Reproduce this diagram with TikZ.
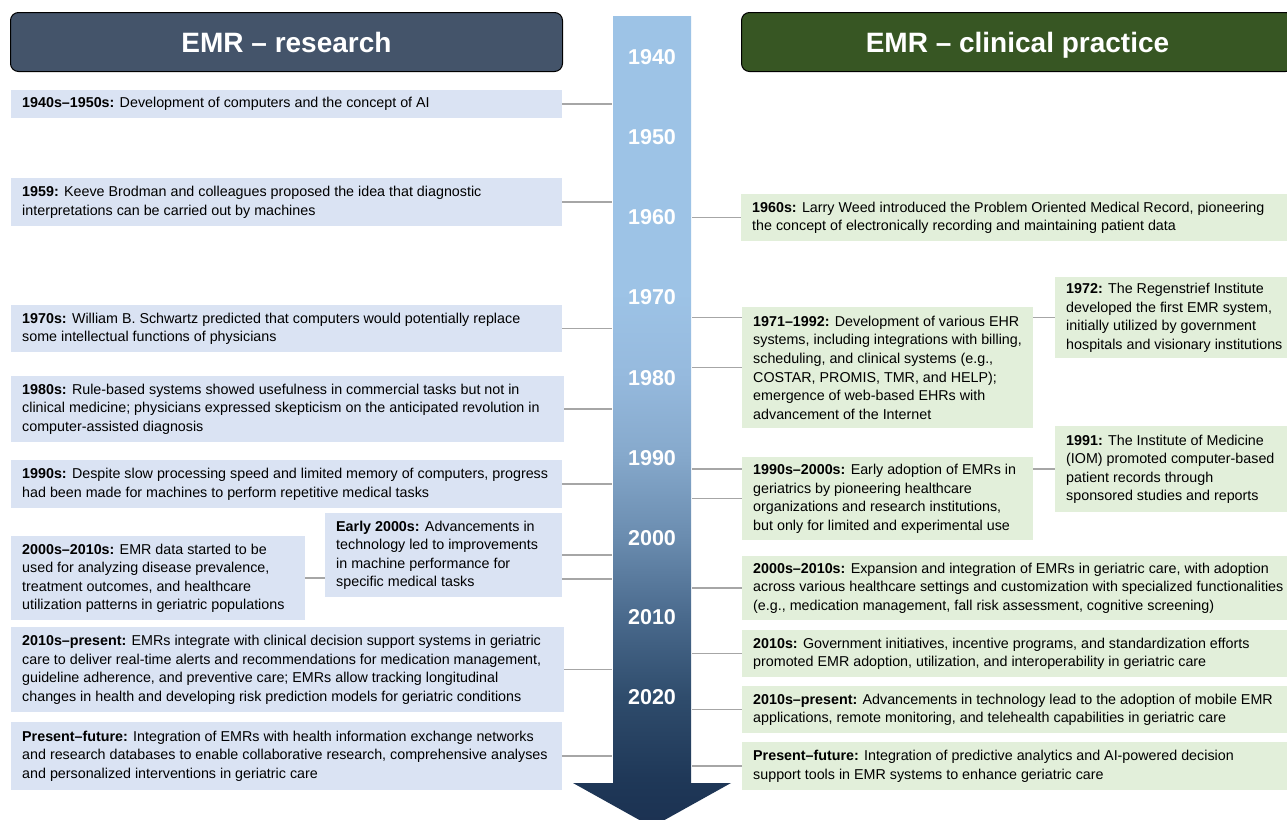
\documentclass[tikz,border=0pt]{standalone}
\usepackage{fontspec}
\setmainfont{Liberation Sans}
\usetikzlibrary{calc}
\definecolor{lboxc}{HTML}{DAE3F3}
\definecolor{rboxc}{HTML}{E2EFDA}
\definecolor{hdrL}{HTML}{44546A}
\definecolor{hdrR}{HTML}{375623}
\definecolor{connc}{HTML}{A6A6A6}
\definecolor{ar1}{HTML}{1B3151}
\definecolor{ar2}{HTML}{1F3858}
\definecolor{ar3}{HTML}{2F4C6C}
\definecolor{ar4}{HTML}{4A6A8D}
\definecolor{ar5}{HTML}{6B8DB0}
\definecolor{ar6}{HTML}{86A9CC}
\definecolor{ar7}{HTML}{96BADE}
\definecolor{ar8}{HTML}{9DC3E6}
\pgfdeclareverticalshading{arrowshade}{100bp}{color(0bp)=(ar1); color(25bp)=(ar1); color(28bp)=(ar2); color(33bp)=(ar3); color(38bp)=(ar4); color(43bp)=(ar5); color(48bp)=(ar6); color(53bp)=(ar7); color(58bp)=(ar8); color(100bp)=(ar8)}
\newcommand\evbox[7]{%
  \node[#1, minimum width=#5pt, minimum height=#6pt, anchor=north west] (#2) at (#3,#4) {};
  \node[boxtext, anchor=west] (#2t) at ([xshift=11pt]#2.west) {#7};
}
\begin{document}
\begin{tikzpicture}[x=1pt,y=-1pt,
  lbox/.style={fill=lboxc, draw=none, inner sep=0pt},
  rbox/.style={fill=rboxc, draw=none, inner sep=0pt},
  boxtext/.style={inner sep=0pt, align=left, font=\fontsize{14.3}{18.6}\selectfont, text=black},
  conn/.style={draw=connc, line width=1.5pt},
  yearlbl/.style={text=white, font=\bfseries\fontsize{21.5}{24}\selectfont, inner sep=0pt},
  header/.style={rounded corners=8pt, draw=black, line width=1pt, text=white, font=\bfseries\fontsize{28}{32}\selectfont, inner sep=0pt, anchor=north west, minimum height=59pt, text height=20pt, text depth=0pt}]
\useasboundingbox (0,0) rectangle (1287,819);
\clip (0,0) rectangle (1287,819);
\fill[white] (0,0) rectangle (1287,819);

% headers
\node[header, fill=hdrL, minimum width=552pt] (HL) at (10,12) {EMR – research};
\node[header, fill=hdrR, minimum width=552pt] (HR) at (741,12) {EMR – clinical practice};

% timeline arrow
\shade[shading=arrowshade] (613,16) -- (691,16) -- (691,783) -- (731,783) -- (652,827) -- (573,783) -- (613,783) -- cycle;
\coordinate (shL) at (612,16);
\coordinate (shR) at (692,16);

% years
\node[yearlbl] (y1940) at (652,57) {1940};
\node[yearlbl] (y1950) at (652,137) {1950};
\node[yearlbl] (y1960) at (652,217) {1960};
\node[yearlbl] (y1970) at (652,297) {1970};
\node[yearlbl] (y1980) at (652,378) {1980};
\node[yearlbl] (y1990) at (652,458) {1990};
\node[yearlbl] (y2000) at (652,538) {2000};
\node[yearlbl] (y2010) at (652,617) {2010};
\node[yearlbl] (y2020) at (652,697) {2020};

% left boxes
\evbox{lbox}{A1}{11}{90}{551}{28}{\textbf{1940s–1950s:} Development of computers and the concept of AI}
\evbox{lbox}{A2}{11}{178}{551}{48}{\textbf{1959:} Keeve Brodman and colleagues proposed the idea that diagnostic\\interpretations can be carried out by machines}
\evbox{lbox}{A3}{11}{305}{551}{47}{\textbf{1970s:} William B. Schwartz predicted that computers would potentially replace\\some intellectual functions of physicians}
\evbox{lbox}{A4}{11}{376}{553}{66}{\textbf{1980s:} Rule-based systems showed usefulness in commercial tasks but not in\\clinical medicine; physicians expressed skepticism on the anticipated revolution in\\computer-assisted diagnosis}
\evbox{lbox}{A5}{11}{460}{551}{48}{\textbf{1990s:} Despite slow processing speed and limited memory of computers, progress\\had been made for machines to perform repetitive medical tasks}
\evbox{lbox}{A6}{11}{536}{294}{84}{\textbf{2000s–2010s:} EMR data started to be\\used for analyzing disease prevalence,\\treatment outcomes, and healthcare\\utilization patterns in geriatric populations}
\evbox{lbox}{A7}{325}{513}{237}{84}{\textbf{Early 2000s:} Advancements in\\technology led to improvements\\in machine performance for\\specific medical tasks}
\evbox{lbox}{A8}{11}{627}{553}{85}{\textbf{2010s–present:} EMRs integrate with clinical decision support systems in geriatric\\care to deliver real-time alerts and recommendations for medication management,\\guideline adherence, and preventive care; EMRs allow tracking longitudinal\\changes in health and developing risk prediction models for geriatric conditions}
\evbox{lbox}{A9}{11}{722}{551}{68}{\textbf{Present–future:} Integration of EMRs with health information exchange networks\\and research databases to enable collaborative research, comprehensive analyses\\and personalized interventions in geriatric care}

% right boxes
\evbox{rbox}{B1}{741}{194}{554}{47}{\textbf{1960s:} Larry Weed introduced the Problem Oriented Medical Record, pioneering\\the concept of electronically recording and maintaining patient data}
\evbox{rbox}{B2}{742}{307}{291}{121}{\textbf{1971–1992:} Development of various EHR\\systems, including integrations with billing,\\scheduling, and clinical systems (e.g.,\\COSTAR, PROMIS, TMR, and HELP);\\emergence of web-based EHRs with\\advancement of the Internet}
\evbox{rbox}{B3}{1055}{277}{240}{81}{\textbf{1972:} The Regenstrief Institute\\developed the first EMR system,\\initially utilized by government\\hospitals and visionary institutions}
\evbox{rbox}{B4}{742}{457}{291}{83}{\textbf{1990s–2000s:} Early adoption of EMRs in\\geriatrics by pioneering healthcare\\organizations and research institutions,\\but only for limited and experimental use}
\evbox{rbox}{B5}{1055}{426}{240}{86}{\textbf{1991:} The Institute of Medicine\\(IOM) promoted computer-based\\patient records through\\sponsored studies and reports}
\evbox{rbox}{B6}{742}{556}{553}{64}{\textbf{2000s–2010s:} Expansion and integration of EMRs in geriatric care, with adoption\\across various healthcare settings and customization with specialized functionalities\\(e.g., medication management, fall risk assessment, cognitive screening)}
\evbox{rbox}{B7}{742}{630}{553}{47}{\textbf{2010s:} Government initiatives, incentive programs, and standardization efforts\\promoted EMR adoption, utilization, and interoperability in geriatric care}
\evbox{rbox}{B8}{742}{686}{553}{47}{\textbf{2010s–present:} Advancements in technology lead to the adoption of mobile EMR\\applications, remote monitoring, and telehealth capabilities in geriatric care}
\evbox{rbox}{B9}{742}{742}{553}{48}{\textbf{Present–future:} Integration of predictive analytics and AI-powered decision\\support tools in EMR systems to enhance geriatric care}

% connectors left
\draw[conn] (A1.east) -- (A1.east -| shL);
\draw[conn] (A2.east) -- (A2.east -| shL);
\draw[conn] (A3.east) -- (A3.east -| shL);
\draw[conn] (A4.east) -- (A4.east -| shL);
\draw[conn] (A5.east) -- (A5.east -| shL);
\draw[conn] (A6.east) -- (A6.east -| A7.west);
\draw[conn] (A7.east) -- (A7.east -| shL);
\draw[conn] ([yshift=-24pt]A7.east) -- ([yshift=-24pt]A7.east -| shL);
\draw[conn] (A8.east) -- (A8.east -| shL);
\draw[conn] (A9.east) -- (A9.east -| shL);

% connectors right
\draw[conn] (B1.west -| shR) -- (B1.west);
\draw[conn] (B3.west -| shR) -- (B3.west -| B2.west);
\draw[conn] (B2.west -| shR) -- (B2.west);
\draw[conn] (B3.west -| B2.east) -- (B3.west);
\draw[conn] (B5.west -| shR) -- (B5.west -| B4.west);
\draw[conn] (B4.west -| shR) -- (B4.west);
\draw[conn] (B5.west -| B4.east) -- (B5.west);
\draw[conn] (B6.west -| shR) -- (B6.west);
\draw[conn] (B7.west -| shR) -- (B7.west);
\draw[conn] (B8.west -| shR) -- (B8.west);
\draw[conn] (B9.west -| shR) -- (B9.west);
\end{tikzpicture}
\end{document}
